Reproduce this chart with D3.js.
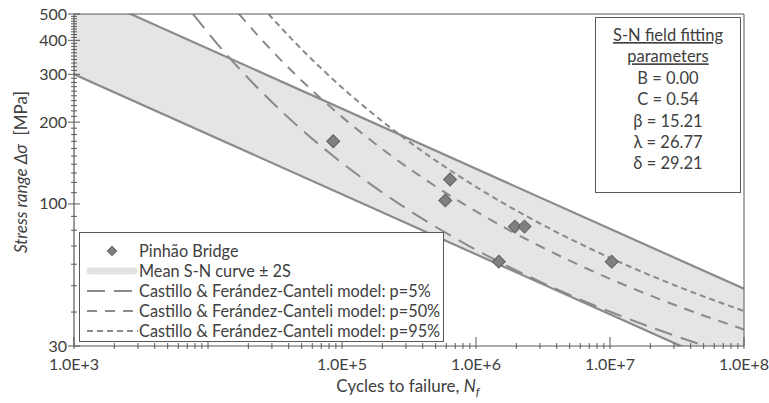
<!DOCTYPE html>
<html><head><meta charset="utf-8">
<script src="https://cdn.jsdelivr.net/npm/d3@7"></script>
<style>
body{margin:0;background:#fff}
text{font-family:Lato,"Open Sans",sans-serif;fill:#404040}
</style>
</head><body><svg id="c" width="769" height="403"></svg>
<script>
// ---------- data ----------
const xTickValues = [1e3, 1e4, 1e5, 1e6, 1e7, 1e8];
const xTickLabels = ["1.0E+3", "", "1.0E+5", "1.0E+6", "1.0E+7", "1.0E+8"];
const yTickValues = [30, 100, 200, 300, 400, 500];
const yTickLabels = ["30", "100", "200", "300", "400", "500"];

const bandN = [1e3, 1e8];
const bandLower = [300, 23.6];
const bandUpper = [620, 48.7];

const bridgeN = [8.6e4, 6.4e5, 5.9e5, 1.95e6, 2.3e6, 1.48e6, 1.03e7];
const bridgeS = [170, 123, 103, 82.5, 82.5, 61.3, 61.3];

const p5N = [7730, 11140, 18730, 26850, 43290, 86100, 156400, 267300, 552600, 889200, 1.612e6, 3.49e6, 5.67e6, 1.015e7, 2.074e7, 5.14e7];
const p5S = [500, 400, 300, 250, 200, 150, 120, 100, 80, 70, 60, 50, 45, 40, 35, 30];
const p50N = [17040, 25390, 44690, 66120, 111300, 235100, 450100, 807000, 1.778e6, 2.985e6, 5.70e6, 1.322e7, 2.242e7, 4.224e7, 9.195e7, 1e8];
const p50S = [500, 400, 300, 250, 200, 150, 120, 100, 80, 70, 60, 50, 45, 40, 35, 34.5];
const p95N = [28290, 43030, 77980, 117700, 203600, 447200, 885700, 1.636e6, 3.756e6, 6.479e6, 1.280e7, 3.099e7, 5.405e7, 1e8];
const p95S = [500, 400, 300, 250, 200, 150, 120, 100, 80, 70, 60, 50, 45, 40.35];

const legendLabels = ["Pinhão Bridge", "Mean S-N curve ± 2S",
  "Castillo & Ferández-Canteli model: p=5%",
  "Castillo & Ferández-Canteli model: p=50%",
  "Castillo & Ferández-Canteli model: p=95%"];
const paramTitle = ["S-N field fitting", "parameters"];
const paramLines = ["B = 0.00", "C = 0.54", "β = 15.21", "λ = 26.77", "δ = 29.21"];

// ---------- chart ----------
const svg = d3.select("#c");
const L = 74, R = 744, T = 14, B = 346;
const x = d3.scaleLog().domain([1e3, 1e8]).range([L, R]);
const y = d3.scaleLog().domain([30, 500]).range([B, T]);
const lineCol = "#8a8a8a", axisCol = "#595959";

svg.append("clipPath").attr("id", "clip").append("rect")
  .attr("x", L).attr("y", T).attr("width", R - L).attr("height", B - T);
const g = svg.append("g").attr("clip-path", "url(#clip)");

// band
const bandData = bandN.map((n, i) => ({n, lo: bandLower[i], hi: bandUpper[i]}));
g.append("path").datum(bandData)
  .attr("d", d3.area().x(d => x(d.n)).y0(d => y(d.lo)).y1(d => y(d.hi)))
  .attr("fill", "#e5e5e5");
["lo", "hi"].forEach(k => {
  g.append("path").datum(bandData)
    .attr("d", d3.line().x(d => x(d.n)).y(d => y(d[k])))
    .attr("fill", "none").attr("stroke", lineCol).attr("stroke-width", 2.2);
});

// curves
const curves = [
  {N: p5N, S: p5S, dash: "18,9"},
  {N: p50N, S: p50S, dash: "10,8"},
  {N: p95N, S: p95S, dash: "6,4"}
];
const cl = d3.line().x(d => x(d[0])).y(d => y(d[1])).curve(d3.curveMonotoneX);
curves.forEach(c => {
  g.append("path").datum(c.N.map((n, i) => [n, c.S[i]]))
    .attr("d", cl).attr("fill", "none").attr("stroke", lineCol)
    .attr("stroke-width", 2).attr("stroke-dasharray", c.dash);
});

// diamonds
const diamond = d3.symbol().type(d3.symbolSquare).size(84);
g.selectAll(".pt").data(bridgeN.map((n, i) => [n, bridgeS[i]])).join("path")
  .attr("d", diamond)
  .attr("transform", d => `translate(${x(d[0])},${y(d[1])}) rotate(45)`)
  .attr("fill", "#7f7f7f").attr("stroke", "#606060").attr("stroke-width", 1);

// frame top/right
svg.append("path").attr("d", `M${L},${T}H${R}V${B}`).attr("fill", "none")
  .attr("stroke", axisCol).attr("stroke-width", 1);

// x axis
svg.append("line").attr("x1", L).attr("x2", R).attr("y1", B).attr("y2", B)
  .attr("stroke", axisCol).attr("stroke-width", 1.2);
const xMinor = x.ticks().filter(v => !xTickValues.includes(v));
svg.selectAll(".xm").data(xMinor).join("line")
  .attr("x1", d => x(d)).attr("x2", d => x(d)).attr("y1", B - 3).attr("y2", B + 3)
  .attr("stroke", axisCol);
svg.selectAll(".xM").data(xTickValues).join("line")
  .attr("x1", d => x(d)).attr("x2", d => x(d)).attr("y1", B - 9).attr("y2", B + 3)
  .attr("stroke", axisCol);
svg.selectAll(".xl").data(xTickValues).join("text")
  .attr("x", d => x(d)).attr("y", B + 24).attr("text-anchor", "middle")
  .attr("font-size", 16).text((d, i) => xTickLabels[i]);

// y axis
svg.append("line").attr("x1", L).attr("x2", L).attr("y1", T).attr("y2", B)
  .attr("stroke", axisCol).attr("stroke-width", 1.2);
const yMinor = d3.range(40, 500, 10).filter(v => !yTickValues.includes(v));
svg.selectAll(".ym").data(yMinor).join("line")
  .attr("x1", L - 3).attr("x2", L + 3).attr("y1", d => y(d)).attr("y2", d => y(d))
  .attr("stroke", axisCol);
svg.selectAll(".yM").data(yTickValues).join("line")
  .attr("x1", L - 6).attr("x2", L + 6).attr("y1", d => y(d)).attr("y2", d => y(d))
  .attr("stroke", axisCol);
svg.selectAll(".yl").data(yTickValues).join("text")
  .attr("x", L - 7).attr("y", d => y(d) + 5.5).attr("text-anchor", "end")
  .attr("font-size", 16).text((d, i) => yTickLabels[i]);

// axis titles
const xt = svg.append("text").attr("x", 408).attr("y", 392).attr("text-anchor", "middle")
  .attr("font-size", 17);
xt.append("tspan").text("Cycles to failure, ");
xt.append("tspan").attr("font-style", "italic").text("N");
xt.append("tspan").attr("font-style", "italic").attr("font-size", 12).attr("dy", 4).text("f");

const yt = svg.append("text").attr("transform", "translate(27,172) rotate(-90)")
  .attr("text-anchor", "middle").attr("font-size", 17);
yt.append("tspan").attr("font-style", "italic").text("Stress range Δσ");
yt.append("tspan").attr("xml:space", "preserve").text("  [MPa]");

// legend
const lg = svg.append("g");
lg.append("rect").attr("x", 79.5).attr("y", 232.5).attr("width", 364).attr("height", 109)
  .attr("fill", "#fff").attr("stroke", axisCol);
const rowY = i => 251 + i * 20;
lg.append("path").attr("d", d3.symbol().type(d3.symbolSquare).size(42))
  .attr("transform", `translate(112,${rowY(0)}) rotate(45)`)
  .attr("fill", "#7f7f7f").attr("stroke", "#606060");
lg.append("line").attr("x1", 90).attr("x2", 134).attr("y1", rowY(1)).attr("y2", rowY(1))
  .attr("stroke", "#e3e3e3").attr("stroke-width", 7).attr("stroke-linecap", "round");
curves.forEach((c, i) => {
  lg.append("line").attr("x1", 87).attr("x2", 138).attr("y1", rowY(i + 2)).attr("y2", rowY(i + 2))
    .attr("stroke", lineCol).attr("stroke-width", 2).attr("stroke-dasharray", c.dash);
});
lg.selectAll(".lt").data(legendLabels).join("text")
  .attr("x", 139).attr("y", (d, i) => rowY(i) + 5.5).attr("font-size", 16.3).text(d => d);

// parameter box
const pb = svg.append("g");
pb.append("rect").attr("x", 595.5).attr("y", 17.5).attr("width", 145).attr("height", 175)
  .attr("fill", "#fff").attr("stroke", axisCol);
pb.selectAll(".pt1").data(paramTitle).join("text")
  .attr("x", 668).attr("y", (d, i) => 41 + i * 21.3).attr("text-anchor", "middle")
  .attr("font-size", 16.5).attr("text-decoration", "underline").text(d => d);
pb.selectAll(".pl").data(paramLines).join("text")
  .attr("x", 668).attr("y", (d, i) => 84 + i * 21.3).attr("text-anchor", "middle")
  .attr("font-size", 16.5).text(d => d);
</script>
</body></html>
